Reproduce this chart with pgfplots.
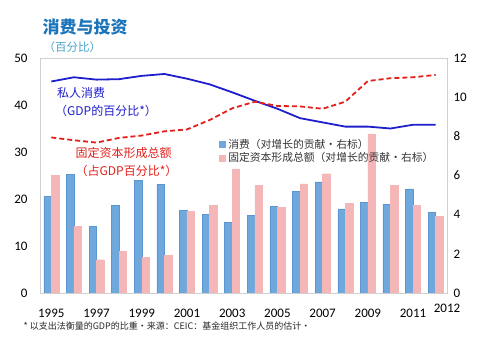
\documentclass[border=0pt]{standalone}
\usepackage{fontspec}
\setmainfont{Carlito}
\newfontfamily\cjk{Noto Sans CJK SC}
\usepackage{pgfplots}
\pgfplotsset{compat=1.18}
\definecolor{titleblue}{HTML}{1B75BB}
\definecolor{subblue}{HTML}{4BA3C8}
\definecolor{barblue}{HTML}{6FA8DC}
\definecolor{barblueedge}{HTML}{5B96D0}
\definecolor{barpink}{HTML}{F4B6B6}
\definecolor{lineblue}{HTML}{1E1ECC}
\definecolor{linered}{HTML}{E0201B}
\definecolor{framegray}{HTML}{D0D0D0}
\begin{document}
\begin{tikzpicture}
\useasboundingbox (0pt,0pt) rectangle (504pt,345pt);
% bars on right axis
\begin{axis}[
  at={(40pt,52pt)}, anchor=south west, scale only axis,
  width=407pt, height=235pt,
  xmin=-0.5, xmax=17.5, ymin=0, ymax=12,
  axis x line=none, axis y line*=right,
  y axis line style={draw=none},
  ytick={0,2,...,12}, major tick length=0pt,
  /pgf/number format/assume math mode=true,
  yticklabel style={font=\fontsize{13}{15}\selectfont, anchor=west, xshift=3pt},
  ybar=0pt, bar width=7.5pt,
  legend style={at={(0.44,0.665)}, anchor=north west, draw=none, fill=none,
    font=\cjk\fontsize{10.8}{13}\selectfont, text=black!80, row sep=-1pt,
    inner sep=0pt},
  legend cell align=left,
  legend image code/.code={\draw[#1, draw=none] (0pt,-3.5pt) rectangle (7pt,3.5pt);},
]
\addplot[fill=barblue, draw=barblueedge] coordinates {
(0,4.94) (1,6.05) (2,3.41) (3,4.47) (4,5.74) (5,5.54) (6,4.21) (7,4.02) (8,3.60)
(9,3.95) (10,4.41) (11,5.18) (12,5.68) (13,4.30) (14,4.64) (15,4.53) (16,5.32) (17,4.12)};
\addlegendentry{消费（对增长的贡献・右标）}
\addplot[fill=barpink, draw=barpink] coordinates {
(0,6.00) (1,3.41) (2,1.70) (3,2.11) (4,1.82) (5,1.91) (6,4.16) (7,4.47) (8,6.34)
(9,5.50) (10,4.36) (11,5.57) (12,6.09) (13,4.57) (14,8.13) (15,5.50) (16,4.47) (17,3.92)};
\addlegendentry{固定资本形成总额（对增长的贡献・右标）}
\end{axis}
% lines on left axis
\begin{axis}[
  at={(40pt,52pt)}, anchor=south west, scale only axis,
  width=407pt, height=235pt,
  xmin=-0.5, xmax=17.5, ymin=0, ymax=50,
  axis line style={draw=framegray},
  ytick={0,10,...,50}, major tick length=0pt,
  xtick={0,2,...,16},
  xticklabels={1995,1997,1999,2001,2003,2005,2007,2009,2011},
  extra x ticks={17.5}, extra x tick labels={2012},
  extra x tick style={xticklabel style={yshift=5pt}},
  /pgf/number format/assume math mode=true,
  yticklabel style={font=\fontsize{13}{15}\selectfont, xshift=-9pt},
  xticklabel style={font=\fontsize{13}{15}\selectfont, yshift=-12.5pt},
  ytick pos=left, xtick pos=bottom,
]
\addplot[lineblue, line width=1.8pt, mark=none] coordinates {
(0,45.0) (1,45.9) (2,45.4) (3,45.5) (4,46.2) (5,46.6) (6,45.6) (7,44.4) (8,42.7)
(9,40.9) (10,39.2) (11,37.2) (12,36.3) (13,35.4) (14,35.4) (15,35.0) (16,35.8) (17,35.8)};
\addplot[linered, line width=1.8pt, dash pattern=on 5pt off 3pt, mark=none] coordinates {
(0,33.1) (1,32.5) (2,32.0) (3,33.0) (4,33.5) (5,34.4) (6,34.8) (7,36.8) (8,39.3)
(9,40.7) (10,39.8) (11,39.7) (12,39.2) (13,40.7) (14,45.1) (15,45.7) (16,45.9) (17,46.4)};
\end{axis}
% titles and annotations
\node[anchor=west, text=titleblue, font=\cjk\bfseries\fontsize{17}{20}\selectfont] at (39pt,318pt) {消费与投资};
\node[anchor=west, text=subblue, font=\cjk\fontsize{11.5}{13}\selectfont] at (40pt,298pt) {（百分比）};
\node[text=lineblue, font=\cjk\fontsize{12}{14}\selectfont] at (81pt,252pt) {私人消费};
\node[text=lineblue, font=\cjk\fontsize{12}{14}\selectfont] at (106pt,234pt) {（GDP的百分比*）};
\node[text=linered, font=\cjk\fontsize{12}{14}\selectfont] at (123.5pt,192pt) {固定资本形成总额};
\node[text=linered, font=\cjk\fontsize{12}{14}\selectfont] at (126.5pt,174pt) {（占GDP百分比*）};
\node[anchor=west, text=black!85, font=\cjk\fontsize{9}{11}\selectfont] at (20pt,19pt) {* 以支出法衡量的GDP的比重・来源：CEIC：基金组织工作人员的估计・};
\end{tikzpicture}
\end{document}
